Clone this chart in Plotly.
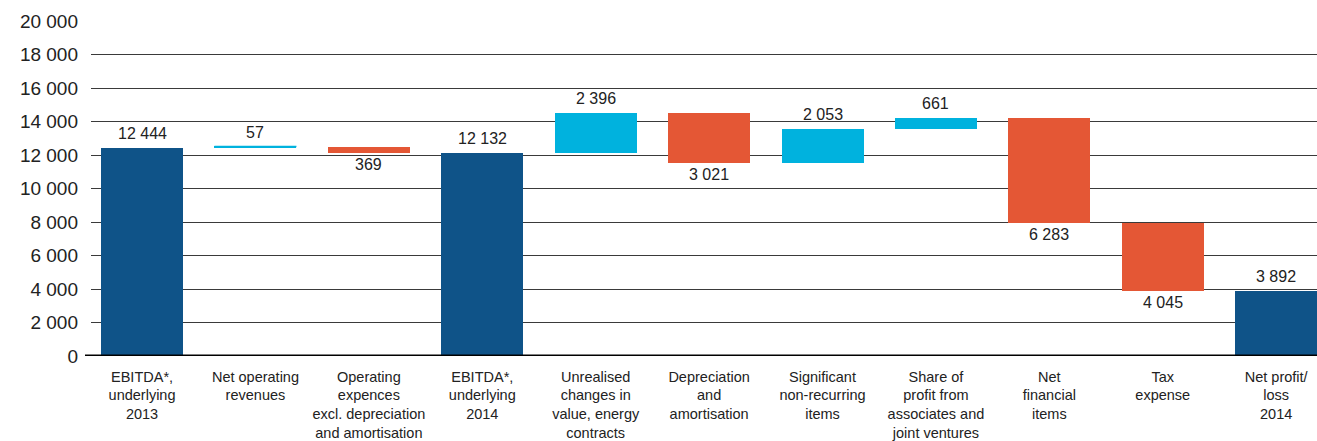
import plotly.graph_objects as go

categories = [
    "EBITDA*,<br>underlying<br>2013",
    "Net operating<br>revenues",
    "Operating<br>expences<br>excl. depreciation<br>and amortisation",
    "EBITDA*,<br>underlying<br>2014",
    "Unrealised<br>changes in<br>value, energy<br>contracts",
    "Depreciation<br>and<br>amortisation",
    "Significant<br>non-recurring<br>items",
    "Share of<br>profit from<br>associates and<br>joint ventures",
    "Net<br>financial<br>items",
    "Tax<br>expense",
    "Net profit/<br>loss<br>2014",
]
values = [12444, 57, -369, 12132, 2396, -3021, 2053, 661, -6283, -4045, 3892]
kinds = ["total", "rel", "rel", "total", "rel", "rel", "rel", "rel", "rel", "rel", "total"]

C_TOTAL = "#0f5388"
C_UP = "#00b2de"
C_DOWN = "#e45735"
FONT = "Liberation Sans, Arial, sans-serif"

bases, heights, colors, texts = [], [], [], []
level = 0
for v, k in zip(values, kinds):
    if k == "total":
        bases.append(0)
        heights.append(v)
        colors.append(C_TOTAL)
        level = v
    else:
        bases.append(level)
        heights.append(v)
        colors.append(C_UP if v > 0 else C_DOWN)
        level += v
    texts.append(f"{abs(v):,}".replace(",", " "))

xs = list(range(len(categories)))
BW = 0.723

fig = go.Figure()
fig.add_trace(go.Bar(
    x=xs, y=heights, base=bases,
    marker=dict(color=colors, line=dict(width=0)),
    width=BW, hoverinfo="skip",
))
# thin line for the tiny increase so it stays visible
fig.add_trace(go.Scatter(
    x=[xs[1] - BW / 2, xs[1] + BW / 2],
    y=[bases[1] + heights[1], bases[1] + heights[1]],
    mode="lines", line=dict(color=C_UP, width=1.5), hoverinfo="skip",
))

for x, b, h, t in zip(xs, bases, heights, texts):
    if h >= 0:
        fig.add_annotation(x=x, y=b + h, text=t, showarrow=False, yanchor="bottom",
                           yshift=4, font=dict(size=16, color="#222", family=FONT))
    else:
        fig.add_annotation(x=x, y=b + h, text=t, showarrow=False, yanchor="top",
                           yshift=-1, font=dict(size=16, color="#222", family=FONT))

fig.update_layout(
    width=1317, height=441,
    margin=dict(l=91, r=0, t=21, b=85),
    plot_bgcolor="white", paper_bgcolor="white",
    showlegend=False,
    separators=", ",
    font=dict(family=FONT, color="#222"),
    bargap=0,
    xaxis=dict(
        range=[-0.45, 10.36], automargin=False,
        tickmode="array", tickvals=xs, ticktext=categories,
        tickfont=dict(size=14.5), showgrid=False, zeroline=False,
        showline=False, ticks="", ticklabelstandoff=10,
    ),
    yaxis=dict(
        range=[0, 20000], dtick=2000, tickformat=",d", automargin=False,
        tickfont=dict(size=19), showgrid=True, gridcolor="#3a3a3a",
        gridwidth=1, zeroline=False, showline=False, ticks="",
        ticklabelstandoff=12,
    ),
)
fig.add_shape(type="line", xref="paper", yref="y", x0=-0.0049, x1=1, y0=0, y1=0,
              line=dict(color="black", width=3), layer="above")

fig.write_html(
    "out.html",
    config={"displayModeBar": False},
    post_script="document.body.style.margin='0';document.body.style.overflow='hidden';",
)
